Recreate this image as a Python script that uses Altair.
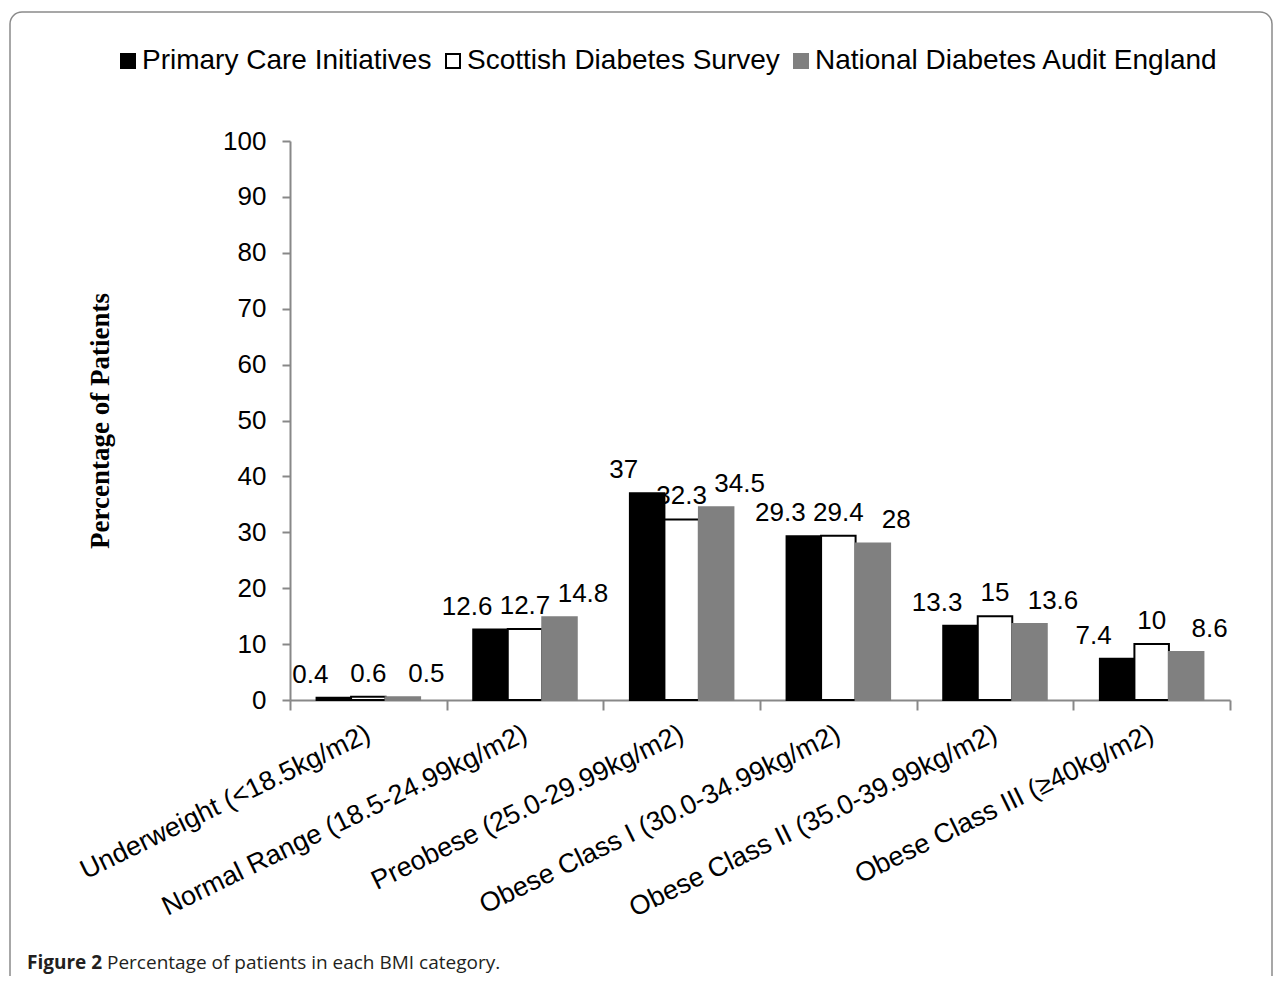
import altair as alt
import pandas as pd

categories = [
    "Underweight (<18.5kg/m2)",
    "Normal Range (18.5-24.99kg/m2)",
    "Preobese (25.0-29.99kg/m2)",
    "Obese Class I (30.0-34.99kg/m2)",
    "Obese Class II (35.0-39.99kg/m2)",
    "Obese Class III (≥40kg/m2)",
]
series = ["Primary Care Initiatives", "Scottish Diabetes Survey", "National Diabetes Audit England"]
primary_care = [0.4, 12.6, 37, 29.3, 13.3, 7.4]
scottish = [0.6, 12.7, 32.3, 29.4, 15, 10]
national = [0.5, 14.8, 34.5, 28, 13.6, 8.6]
fills = ["#000000", "#ffffff", "#808080"]
strokes = ["#000000", "#000000", "#808080"]

rows = []
for si, (s, vals) in enumerate(zip(series, [primary_care, scottish, national])):
    for ci, (c, v) in enumerate(zip(categories, vals)):
        rows.append({"category": c, "series": s, "value": v, "label": f"{v:g}",
                     "cat_idx": ci, "series_idx": si})
df = pd.DataFrame(rows)

W, H = 940, 559
FONT = "Liberation Sans"

x_enc = alt.X(
    "category:N",
    sort=categories,
    scale=alt.Scale(paddingInner=0, paddingOuter=0),
    axis=alt.Axis(
        title=None,
        tickBand="extent",
        tickSize=10,
        tickColor="#888888",
        tickWidth=2,
        domainColor="#888888",
        domainWidth=2,
        labelAngle=-26,
        labelAlign="right",
        labelBaseline="middle",
        labelPadding=22,
        labelFont=FONT,
        labelFontSize=27,
        labelColor="#000000",
        labelLimit=0,
        labelOverlap=False,
    ),
)
y_enc = alt.Y(
    "value:Q",
    scale=alt.Scale(domain=[0, 100], nice=False),
    axis=alt.Axis(
        values=list(range(0, 101, 10)),
        grid=False,
        tickSize=8,
        tickColor="#888888",
        tickWidth=2,
        domainColor="#888888",
        domainWidth=2,
        labelFont=FONT,
        labelFontSize=26,
        labelColor="#000000",
        labelPadding=16,
        title="Percentage of Patients",
        titleFont="Liberation Serif",
        titleFontSize=27,
        titleFontWeight="bold",
        titleColor="#000000",
        titleAngle=-90,
        titleAlign="center",
        titleBaseline="middle",
        titleX=-190,
        titleY=H / 2,
    ),
)

legend = alt.Legend(
    title=None,
    orient="none",
    legendX=-176,
    legendY=-94,
    direction="horizontal",
    symbolType="square",
    symbolSize=196,
    symbolStrokeWidth=2,
    labelFont=FONT,
    labelFontSize=28,
    labelColor="#000000",
    labelOffset=0,
    labelLimit=0,
    columnPadding=7,
)

bars = alt.Chart(df).mark_bar(strokeWidth=2).encode(
    x=x_enc,
    xOffset=alt.XOffset("series:N", sort=series, scale=alt.Scale(paddingInner=0, paddingOuter=0.77)),
    y=y_enc,
    fill=alt.Fill("series:N", sort=series, scale=alt.Scale(domain=series, range=fills), legend=legend),
    stroke=alt.Stroke("series:N", sort=series, scale=alt.Scale(domain=series, range=strokes), legend=legend),
)

# data labels: placed on a linear copy of the category axis, spread a little wider than the bars
labels = alt.Chart(df).transform_calculate(
    lpos="datum.cat_idx + (datum.series_idx - 1) * 0.37"
).mark_text(
    font=FONT, fontSize=26, color="#000000", baseline="alphabetic", dy=-15
).encode(
    x=alt.X("lpos:Q", scale=alt.Scale(domain=[-0.5, len(categories) - 0.5], nice=False, zero=False), axis=None),
    y="value:Q",
    text="label:N",
)

one = pd.DataFrame({"k": [0]})
border = alt.Chart(one).mark_rect(
    fill=None, stroke="#8a8a8a", strokeWidth=1.5, cornerRadius=12
).encode(
    x=alt.value(-280), x2=alt.value(982), y=alt.value(-129), y2=alt.value(900)
)
cap_bold = alt.Chart(one).mark_text(
    font="Open Sans", fontSize=19, fontWeight="bold", color="#231f20", align="left", baseline="alphabetic"
).encode(x=alt.value(-263), y=alt.value(828), text=alt.value("Figure 2"))
cap_text = alt.Chart(one).mark_text(
    font="Open Sans", fontSize=19, color="#231f20", align="left", baseline="alphabetic"
).encode(x=alt.value(-183), y=alt.value(828), text=alt.value("Percentage of patients in each BMI category."))

chart = (
    alt.layer(border, bars, labels, cap_bold, cap_text)
    .resolve_scale(x="independent")
    .properties(
        width=W,
        height=H,
        autosize=alt.AutoSizeParams(type="none"),
        padding={"left": 282, "top": 133, "right": 44, "bottom": 276},
    )
    .configure_view(stroke=None)
)

chart.save("out.html", embed_options={"renderer": "svg", "actions": False})
